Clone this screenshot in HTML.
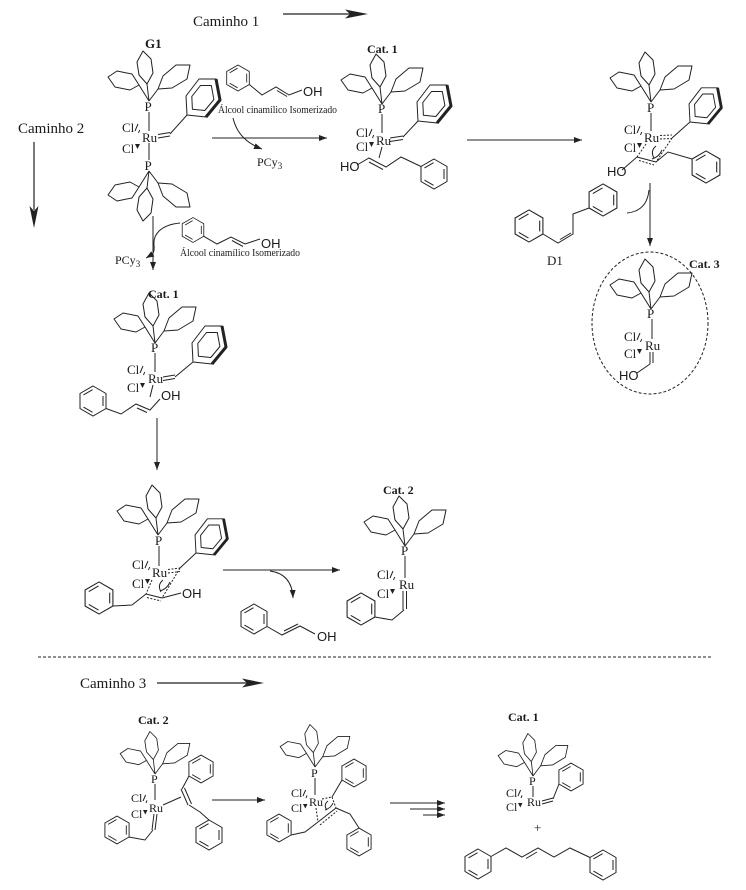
<!DOCTYPE html>
<html><head><meta charset="utf-8">
<style>
html,body{margin:0;padding:0;background:#fff;}
svg{display:block;}
text{font-family:"Liberation Serif",serif;fill:#1a1a1a;}
.s{font-family:"Liberation Sans",sans-serif;}
.b{font-weight:bold;}
</style></head><body>
<svg width="746" height="890" viewBox="0 0 746 890" xmlns="http://www.w3.org/2000/svg">
<defs>
<marker id="ah" markerWidth="9" markerHeight="7" refX="8" refY="3" orient="auto" markerUnits="userSpaceOnUse"><path d="M0,0 L8,3 L0,6 z" fill="#222"/></marker>
<g id="pcy" fill="none" stroke="#222" stroke-width="1" stroke-linejoin="round">
 <path d="M0,0 L-10,-16 M0,0 L-2,-17 M0,0 L9,-12"/>
 <polygon points="-10,-16 -17,-27 -32,-30 -41,-24 -34,-14 -19,-11"/>
 <polygon points="-2,-17 4,-28 2,-42 -6,-50 -12,-39 -10,-26"/>
 <polygon points="9,-12 14,-25 27,-36 41,-36 38,-22 23,-13"/>
</g>
<g id="pp" fill="none" stroke="#222" stroke-linejoin="round">
 <polygon points="0,0 -1,-19 12,-36 29,-36 33,-15 19,2" stroke-width="1"/>
 <path d="M29,-36 L33,-15 L19,2" stroke-width="3"/>
 <polygon points="5.4,-5.8 4.8,-18.5 13.5,-29.5 24.3,-29.5 26.9,-15.5 17.8,-4.5" stroke-width="1"/>
</g>
<g id="bz" fill="none" stroke="#222" stroke-width="1">
 <polygon points="0,-15 13,-7.5 13,7.5 0,15 -13,7.5 -13,-7.5"/>
 <path d="M10,-5 L10,5 M-0.45,11.28 L-9.55,6.02 M-0.45,-11.28 L-9.55,-6.02"/>
</g>
</defs>

<!-- headers -->
<text x="193" y="26" font-size="15">Caminho 1</text>
<line x1="283" y1="14" x2="350" y2="14" stroke="#222" stroke-width="1.2"/>
<polygon points="368,14 345,9.5 350,14 345,18.5" fill="#222"/>
<text x="18" y="133" font-size="15">Caminho 2</text>
<line x1="34" y1="142" x2="34" y2="210" stroke="#222" stroke-width="1.2"/>
<polygon points="34,228 29.5,206 34,211 38.5,206" fill="#222"/>

<g stroke="#222" stroke-width="1" fill="none">
<!-- ===== G1 ===== -->
<use href="#pcy" transform="translate(149,101)"/>
<line x1="149" y1="112" x2="149" y2="131"/>
<line x1="149" y1="143" x2="149" y2="160"/>
<use href="#pcy" transform="translate(149,171) scale(1,-1)"/>
<path d="M135,131 l3,-7 M138.5,133 l1.2,-3"/>
<line x1="158" y1="134.5" x2="170" y2="132.5"/><line x1="158" y1="138" x2="170" y2="136"/>
<line x1="170" y1="134" x2="187" y2="115"/>
<use href="#pp" transform="translate(187,115)"/>

<!-- alcohol 1 -->
<use href="#bz" transform="translate(238,78) scale(0.87)"/>
<polyline points="249.3,84.5 262,95 276,87 289,95 302,90"/>
<line x1="277" y1="90.5" x2="287" y2="96.5"/>
<!-- arrow G1 -> Cat1 -->
<line x1="212" y1="138" x2="327" y2="138" marker-end="url(#ah)"/>
<path d="M233,118 Q238,140 262,149" marker-end="url(#ah)"/>

<!-- vertical arrow G1 -->
<line x1="153" y1="216" x2="153" y2="270" marker-end="url(#ah)"/>
<path d="M180,223 C160,225 153,235 154,245 S151,255 146,258" marker-end="url(#ah)"/>
<use href="#bz" transform="translate(193,230) scale(0.83)"/>
<polyline points="203.8,236.3 217,244 231,237 245,244 260,239"/>
<line x1="232" y1="240.5" x2="243" y2="246.5"/>

<!-- ===== Cat.1 top ===== -->
<use href="#pcy" transform="translate(382,104)"/>
<line x1="382" y1="114" x2="382" y2="133"/>
<path d="M369,136 l3,-7 M372.5,138 l1.2,-3"/>
<line x1="390" y1="138" x2="403" y2="136"/><line x1="390" y1="141.5" x2="403" y2="139.5"/>
<line x1="403" y1="137" x2="418" y2="121"/>
<use href="#pp" transform="translate(418,121)"/>
<line x1="382" y1="147" x2="379" y2="158"/>
<polyline points="357,165 369,158 386,167 401,157 421,166.5"/>
<line x1="369" y1="162" x2="383" y2="169.5"/>
<use href="#bz" transform="translate(434,174)"/>
<line x1="467" y1="140" x2="582" y2="140" marker-end="url(#ah)"/>

<!-- ===== top right complex ===== -->
<use href="#pcy" transform="translate(651,102)"/>
<line x1="651" y1="113" x2="651" y2="131"/>
<path d="M637,133 l3,-7 M640.5,135 l1.2,-3"/>
<g stroke-dasharray="2,1.5">
<line x1="660" y1="135.5" x2="672" y2="135"/><line x1="660" y1="139" x2="672" y2="138.5"/>
<line x1="672" y1="138" x2="656" y2="162"/>
<line x1="646" y1="144" x2="637" y2="157"/>
<line x1="639" y1="160.5" x2="654" y2="165"/>
</g>
<line x1="672" y1="138" x2="690" y2="122"/>
<use href="#pp" transform="translate(690,122) scale(0.95)"/>
<line x1="637" y1="157" x2="656" y2="162"/>
<line x1="622" y1="170" x2="637" y2="157"/>
<polyline points="656,162 668,152 692,159"/>
<use href="#bz" transform="translate(706,167) scale(1.07)"/>
<path d="M656,146 q-6,5 -2,12 M662,150 q-3,7 -10,9"/>

<!-- D1 -->
<use href="#bz" transform="translate(529,226) scale(1.07)"/>
<polyline points="543,234 558,243 573,234 573,214 589,208"/>
<line x1="560" y1="239.5" x2="571" y2="233"/>
<use href="#bz" transform="translate(603,200) scale(1.07)"/>
<line x1="650" y1="183" x2="650" y2="246" marker-end="url(#ah)"/>
<path d="M627,213 Q647,211 649,190"/>

<!-- ===== Cat.3 ===== -->
<ellipse cx="650" cy="323" rx="58" ry="71" stroke-dasharray="3,2"/>
<use href="#pcy" transform="translate(651,309)"/>
<line x1="652" y1="319" x2="652" y2="339"/>
<path d="M637,340 l3,-7 M640.5,342 l1.2,-3"/>
<line x1="650" y1="352" x2="650" y2="364"/><line x1="653" y1="352" x2="653" y2="363"/>
<line x1="650" y1="364" x2="637" y2="373"/>

<!-- ===== middle Cat.1 ===== -->
<use href="#pcy" transform="translate(155,343)"/>
<line x1="155" y1="353" x2="155" y2="372"/>
<path d="M140,373 l3,-7 M143.5,375 l1.2,-3"/>
<line x1="163" y1="377" x2="175" y2="375"/><line x1="163" y1="380.5" x2="175" y2="378.5"/>
<line x1="175" y1="377" x2="193" y2="362"/>
<use href="#pp" transform="translate(193,362)"/>
<line x1="153" y1="385" x2="150" y2="397"/>
<use href="#bz" transform="translate(93,401)"/>
<polyline points="106,408.5 121,414 136,404 150,410 160,399"/>
<line x1="137" y1="408" x2="147" y2="412.5"/>
<line x1="157" y1="418" x2="157" y2="470" marker-end="url(#ah)"/>

<!-- ===== bottom-left metallacycle ===== -->
<use href="#pcy" transform="translate(158,535)"/>
<line x1="159" y1="546" x2="159" y2="566"/>
<path d="M145,568 l3,-7 M148.5,570 l1.2,-3"/>
<g stroke-dasharray="2,1.5">
<line x1="168" y1="569.5" x2="180" y2="568"/><line x1="168" y1="573" x2="180" y2="571.5"/>
<line x1="180" y1="568" x2="162" y2="598"/>
<line x1="152" y1="580" x2="146" y2="594"/>
<line x1="147" y1="597.5" x2="161" y2="601"/>
</g>
<line x1="180" y1="568" x2="196" y2="553"/>
<use href="#pp" transform="translate(196,553) scale(0.95)"/>
<line x1="146" y1="594" x2="162" y2="598"/>
<line x1="162" y1="598" x2="181" y2="593"/>
<polyline points="146,594 132,605 113,606"/>
<use href="#bz" transform="translate(99,598) scale(1.07)"/>
<path d="M163,580 q-6,5 -2,12 M170,582 q-3,7 -10,9"/>
<line x1="223" y1="570" x2="340" y2="570" marker-end="url(#ah)"/>
<path d="M270,571 Q292,574 293,598" marker-end="url(#ah)"/>
<use href="#bz" transform="translate(254,619)"/>
<polyline points="267,626.5 282,635 300,626 315,634"/>
<line x1="284" y1="631" x2="298" y2="624"/>

<!-- ===== Cat.2 ===== -->
<use href="#pcy" transform="translate(405,546)"/>
<line x1="405" y1="556" x2="405" y2="578"/>
<path d="M390,578 l3,-7 M393.5,580 l1.2,-3"/>
<line x1="403" y1="591" x2="403" y2="610"/><line x1="406.5" y1="591" x2="406.5" y2="609"/>
<polyline points="404,610 392,620 375,617"/>
<use href="#bz" transform="translate(361,609) scale(1.07)"/>

<!-- separator -->
<line x1="38" y1="657" x2="713" y2="657" stroke-dasharray="3,2"/>
</g>

<!-- Caminho 3 -->
<text x="80" y="688" font-size="15">Caminho 3</text>
<line x1="157" y1="683" x2="248" y2="683" stroke="#222" stroke-width="1.2"/>
<polygon points="264,683 242,678.5 247,683 242,687.5" fill="#222"/>

<g stroke="#222" stroke-width="1" fill="none">
<!-- bottom Cat.2 -->
<use href="#pcy" transform="translate(155,774) scale(0.85)"/>
<line x1="155" y1="784" x2="155" y2="800"/>
<path d="M143,801 l2.6,-6 M146,803 l1,-2.6"/>
<line x1="154" y1="814" x2="152" y2="830"/><line x1="157" y1="814" x2="155" y2="830"/>
<polyline points="153,830 145,840 129,837"/>
<use href="#bz" transform="translate(117,830) scale(0.93)"/>
<line x1="163" y1="805" x2="181" y2="797"/>
<line x1="181" y1="789" x2="188" y2="805"/><line x1="184.5" y1="788" x2="191.5" y2="804"/>
<line x1="182" y1="789" x2="189" y2="776"/>
<use href="#bz" transform="translate(201,769) scale(0.93)"/>
<polyline points="189,805 200,812 209,820"/>
<use href="#bz" transform="translate(209,835)"/>
<line x1="212" y1="800" x2="265" y2="800" marker-end="url(#ah)"/>

<!-- bottom middle metallacycle -->
<use href="#pcy" transform="translate(315,767) scale(0.85)"/>
<line x1="315" y1="778" x2="315" y2="795"/>
<path d="M303,796 l2.6,-6 M306,798 l1,-2.6"/>
<g stroke-dasharray="2,1.5">
<line x1="322" y1="799" x2="332" y2="797"/>
<line x1="332" y1="797" x2="336" y2="808"/>
<line x1="316" y1="808" x2="318" y2="822"/>
<line x1="320" y1="825" x2="337" y2="811"/>
</g>
<line x1="318" y1="822" x2="336" y2="808"/>
<line x1="332" y1="797" x2="342" y2="780"/>
<use href="#bz" transform="translate(354,773) scale(0.93)"/>
<polyline points="318,822 305,832 291,835"/>
<use href="#bz" transform="translate(279,828) scale(0.93)"/>
<polyline points="336,808 350,814 359,828"/>
<use href="#bz" transform="translate(359,842) scale(0.93)"/>
<path d="M328,801 q-5,4 -1,9 M333,803 q-2,5 -8,7"/>
<line x1="390" y1="803" x2="445" y2="803" marker-end="url(#ah)"/>
<line x1="410" y1="809" x2="445" y2="809" marker-end="url(#ah)"/>
<line x1="423" y1="815" x2="445" y2="815" marker-end="url(#ah)"/>

<!-- bottom right Cat.1 -->
<use href="#pcy" transform="translate(533,776) scale(0.85)"/>
<line x1="533" y1="786" x2="533" y2="797"/>
<path d="M518,796 l2.6,-6 M521,798 l1,-2.6"/>
<line x1="542" y1="801" x2="553" y2="798"/><line x1="542" y1="804" x2="553" y2="801"/>
<line x1="553" y1="799" x2="559" y2="784"/>
<use href="#bz" transform="translate(571,777) scale(0.93)"/>
<use href="#bz" transform="translate(478,864)"/>
<polyline points="491,856.5 506,848 522,857 538,848 554,857 570,848 590,857.5"/>
<line x1="526" y1="858.5" x2="537" y2="852"/>
<use href="#bz" transform="translate(603,865)"/>
</g>

<!-- wedges -->
<g fill="#222">
<polygon points="135,144 140,144 137.5,149"/>
<polygon points="369,142 374,142 371.5,147"/>
<polygon points="637,143 642,143 639.5,148"/>
<polygon points="637,349 642,349 639.5,354"/>
<polygon points="140,383 145,383 142.5,388"/>
<polygon points="145,579 150,579 147.5,584"/>
<polygon points="390,589 395,589 392.5,594"/>
<polygon points="143,810 147.5,810 145.3,814.5"/>
<polygon points="303,804 307.5,804 305.3,808.5"/>
<polygon points="518,803 522.5,803 520.3,807.5"/>
</g>

<!-- texts -->
<text x="145" y="48" class="b" font-size="13">G1</text>
<text x="144.5" y="111" font-size="13">P</text>
<text x="142" y="142" font-size="13">Ru</text>
<text x="144.5" y="170" font-size="13">P</text>
<text x="122" y="132" font-size="13">Cl</text>
<text x="122" y="153" font-size="13">Cl</text>
<text x="303" y="96" class="s" font-size="13">OH</text>
<text x="218" y="113" font-size="10" textLength="119" lengthAdjust="spacingAndGlyphs">Álcool cinamílico Isomerizado</text>
<text x="257" y="166" font-size="12">PCy<tspan dy="3" font-size="9">3</tspan></text>
<text x="261" y="248" class="s" font-size="13">OH</text>
<text x="180" y="256" font-size="10" textLength="120" lengthAdjust="spacingAndGlyphs">Álcool cinamílico Isomerizado</text>
<text x="115" y="264" font-size="12">PCy<tspan dy="3" font-size="9">3</tspan></text>

<text x="367" y="53" class="b" font-size="12">Cat. 1</text>
<text x="378" y="113" font-size="13">P</text>
<text x="376" y="145" font-size="13">Ru</text>
<text x="356" y="137" font-size="13">Cl</text>
<text x="356" y="151" font-size="13">Cl</text>
<text x="340" y="171" class="s" font-size="13">HO</text>

<text x="647" y="112" font-size="13">P</text>
<text x="644" y="142" font-size="13">Ru</text>
<text x="624" y="134" font-size="13">Cl</text>
<text x="624" y="152" font-size="13">Cl</text>
<text x="607" y="176" class="s" font-size="13">HO</text>
<text x="547" y="265" font-size="13">D1</text>

<text x="689" y="268" class="b" font-size="12">Cat. 3</text>
<text x="647" y="318" font-size="13">P</text>
<text x="645" y="350" font-size="13">Ru</text>
<text x="624" y="341" font-size="13">Cl</text>
<text x="624" y="358" font-size="13">Cl</text>
<text x="619" y="380" class="s" font-size="13">HO</text>

<text x="148" y="298" class="b" font-size="12">Cat. 1</text>
<text x="151" y="352" font-size="13">P</text>
<text x="148" y="383" font-size="13">Ru</text>
<text x="127" y="374" font-size="13">Cl</text>
<text x="127" y="392" font-size="13">Cl</text>
<text x="161" y="400" class="s" font-size="13">OH</text>

<text x="155" y="545" font-size="13">P</text>
<text x="152" y="577" font-size="13">Ru</text>
<text x="132" y="569" font-size="13">Cl</text>
<text x="132" y="588" font-size="13">Cl</text>
<text x="182" y="598" class="s" font-size="13">OH</text>
<text x="317" y="641" class="s" font-size="13">OH</text>

<text x="383" y="494" class="b" font-size="12">Cat. 2</text>
<text x="401" y="555" font-size="13">P</text>
<text x="399" y="589" font-size="13">Ru</text>
<text x="377" y="579" font-size="13">Cl</text>
<text x="377" y="598" font-size="13">Cl</text>

<text x="138" y="724" class="b" font-size="12">Cat. 2</text>
<text x="151" y="783" font-size="12">P</text>
<text x="149" y="812" font-size="12">Ru</text>
<text x="131" y="802" font-size="12">Cl</text>
<text x="131" y="818" font-size="12">Cl</text>

<text x="311" y="777" font-size="12">P</text>
<text x="309" y="806" font-size="12">Ru</text>
<text x="291" y="797" font-size="12">Cl</text>
<text x="291" y="812" font-size="12">Cl</text>

<text x="508" y="721" class="b" font-size="12">Cat. 1</text>
<text x="529" y="785" font-size="12">P</text>
<text x="527" y="806" font-size="12">Ru</text>
<text x="506" y="797" font-size="12">Cl</text>
<text x="506" y="811" font-size="12">Cl</text>
<text x="534" y="832" font-size="13">+</text>
</svg>
</body></html>
